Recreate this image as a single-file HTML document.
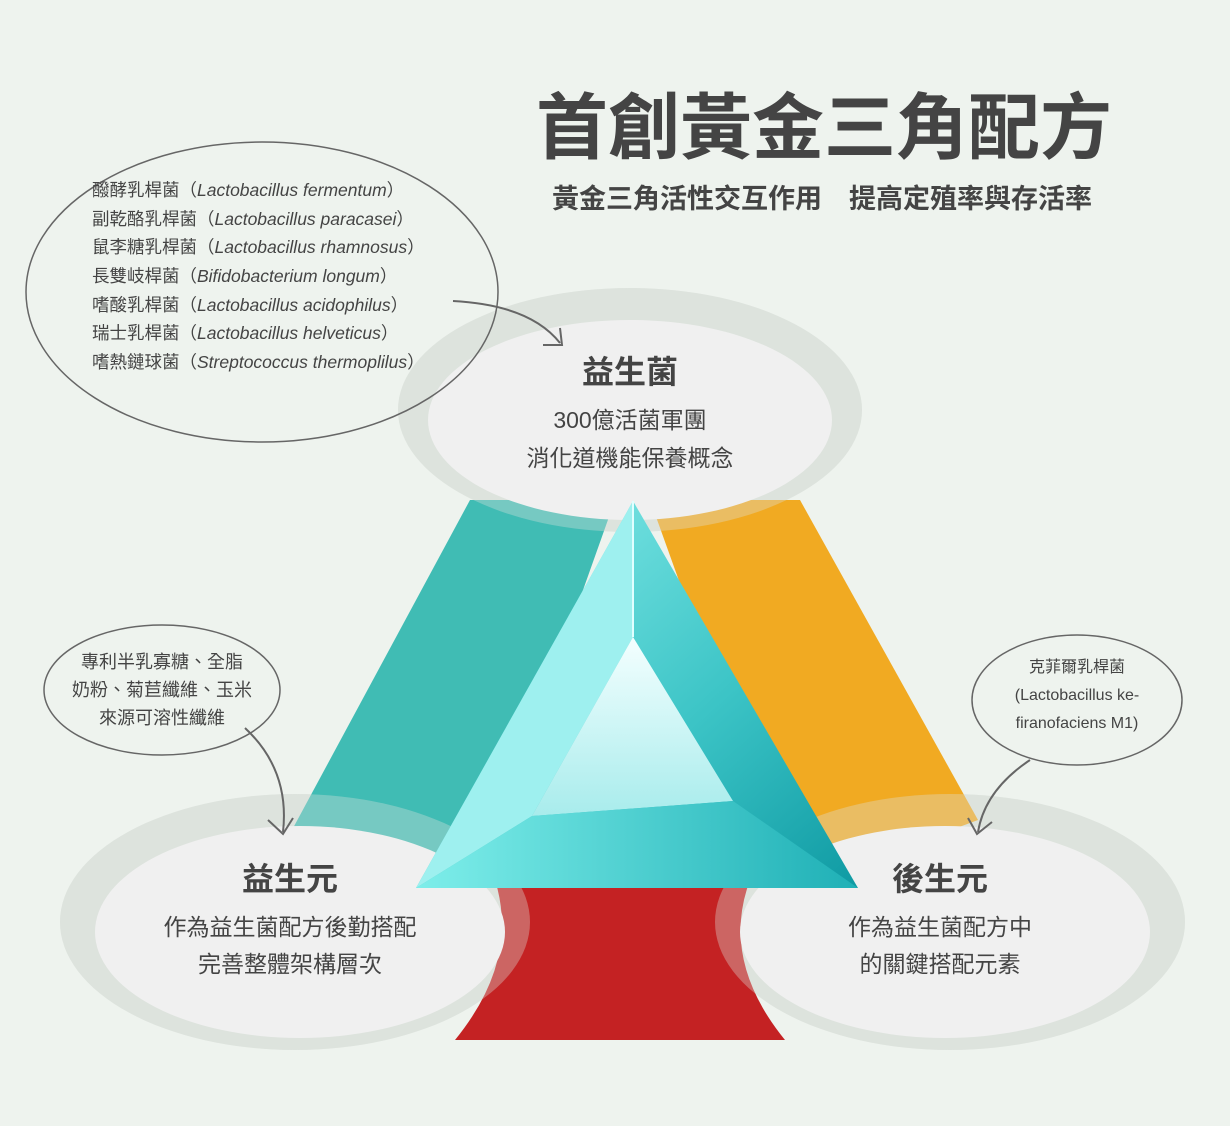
<!DOCTYPE html>
<html><head><meta charset="utf-8"><style>
html,body{margin:0;padding:0;background:#eef3ee;}
svg{display:block}
text{font-family:"Liberation Sans","Noto Sans CJK TC",sans-serif;fill:#444;}
</style></head><body>
<svg width="1230" height="1126" viewBox="0 0 1230 1126">
<defs>
<linearGradient id="tri" x1="0" y1="0" x2="1" y2="1">
<stop offset="0" stop-color="#8ff0ee"/><stop offset="0.6" stop-color="#3cc4c6"/><stop offset="1" stop-color="#0f9aa3"/>
</linearGradient>
<linearGradient id="inner" x1="0" y1="0" x2="0" y2="1">
<stop offset="0" stop-color="#f4ffff"/><stop offset="1" stop-color="#a8ecec"/>
</linearGradient>
<linearGradient id="base" x1="0" y1="0" x2="1" y2="0">
<stop offset="0" stop-color="#7eeeea"/><stop offset="1" stop-color="#1fb0b6"/>
</linearGradient>
</defs>
<rect width="1230" height="1126" fill="#eef3ee"/>
<!-- ellipse rings -->
<ellipse cx="630" cy="410" rx="232" ry="122" fill="#dde3dd"/>
<ellipse cx="295" cy="922" rx="235" ry="128" fill="#dde3dd"/>
<ellipse cx="950" cy="922" rx="235" ry="128" fill="#dde3dd"/>
<!-- bands -->
<polygon points="470,500 615,500 480,880 292,830" fill="#40bcb4"/>
<polygon points="650,500 800,500 978,820 790,890" fill="#f1aa22"/>
<path d="M495 880 L750 880 Q720 960 785 1040 L455 1040 Q520 960 495 880 Z" fill="#c42223"/>
<!-- ring overlap shade -->
<ellipse cx="630" cy="410" rx="232" ry="122" fill="#dde3dd" opacity="0.35"/>
<ellipse cx="295" cy="922" rx="235" ry="128" fill="#dde3dd" opacity="0.35"/>
<ellipse cx="950" cy="922" rx="235" ry="128" fill="#dde3dd" opacity="0.35"/>
<ellipse cx="630" cy="420" rx="202" ry="100" fill="#f0f0f0"/>
<ellipse cx="300" cy="932" rx="205" ry="106" fill="#f0f0f0"/>
<ellipse cx="945" cy="932" rx="205" ry="106" fill="#f0f0f0"/>
<!-- triangle -->
<polygon points="633,501 416,888 858,888" fill="url(#tri)"/>
<polygon points="633,501 416,888 532,816 633,637" fill="#9ef0ef"/>
<polygon points="633,637 532,816 733,801" fill="url(#inner)"/>
<polygon points="532,816 733,801 858,888 416,888" fill="url(#base)"/>
<line x1="633" y1="501" x2="633" y2="637" stroke="#e0ffff" stroke-width="2"/>
<!-- title -->
<text x="824" y="153" font-size="72" font-weight="bold" text-anchor="middle" fill="#484848">首創黃金三角配方</text>
<text x="822" y="208" font-size="27" font-weight="bold" text-anchor="middle" fill="#555">黃金三角活性交互作用　提高定殖率與存活率</text>
<!-- main labels -->
<text x="630" y="383" font-size="32" font-weight="bold" text-anchor="middle">益生菌</text>
<text x="630" y="428" font-size="23" text-anchor="middle">300億活菌軍團</text>
<text x="630" y="466" font-size="23" text-anchor="middle">消化道機能保養概念</text>
<text x="290" y="890" font-size="32" font-weight="bold" text-anchor="middle">益生元</text>
<text x="290" y="935" font-size="23" text-anchor="middle">作為益生菌配方後勤搭配</text>
<text x="290" y="972" font-size="23" text-anchor="middle">完善整體架構層次</text>
<text x="940" y="890" font-size="32" font-weight="bold" text-anchor="middle">後生元</text>
<text x="940" y="935" font-size="23" text-anchor="middle">作為益生菌配方中</text>
<text x="940" y="972" font-size="23" text-anchor="middle">的關鍵搭配元素</text>
<!-- callouts -->
<ellipse cx="262" cy="292" rx="236" ry="150" fill="none" stroke="#666" stroke-width="1.5"/>
<g font-size="17.5">
<text x="92" y="196">醱酵乳桿菌（<tspan font-style="italic">Lactobacillus fermentum</tspan>）</text>
<text x="92" y="225">副乾酪乳桿菌（<tspan font-style="italic">Lactobacillus paracasei</tspan>）</text>
<text x="92" y="253">鼠李糖乳桿菌（<tspan font-style="italic">Lactobacillus rhamnosus</tspan>）</text>
<text x="92" y="282">長雙岐桿菌（<tspan font-style="italic">Bifidobacterium longum</tspan>）</text>
<text x="92" y="311">嗜酸乳桿菌（<tspan font-style="italic">Lactobacillus acidophilus</tspan>）</text>
<text x="92" y="339">瑞士乳桿菌（<tspan font-style="italic">Lactobacillus helveticus</tspan>）</text>
<text x="92" y="368">嗜熱鏈球菌（<tspan font-style="italic">Streptococcus thermoplilus</tspan>）</text>
</g>
<path d="M453 301 Q530 305 560 343" fill="none" stroke="#666" stroke-width="2"/>
<path d="M543 345 L562 345 L560 328" fill="none" stroke="#666" stroke-width="2"/>
<ellipse cx="162" cy="690" rx="118" ry="65" fill="none" stroke="#666" stroke-width="1.5"/>
<g font-size="18" text-anchor="middle">
<text x="162" y="668">專利半乳寡糖、全脂</text>
<text x="162" y="696">奶粉、菊苣纖維、玉米</text>
<text x="162" y="724">來源可溶性纖維</text>
</g>
<path d="M245 728 Q290 770 283 832" fill="none" stroke="#666" stroke-width="2"/>
<path d="M268 820 L283 834 L293 818" fill="none" stroke="#666" stroke-width="2"/>
<ellipse cx="1077" cy="700" rx="105" ry="65" fill="none" stroke="#666" stroke-width="1.5"/>
<g font-size="16" text-anchor="middle">
<text x="1077" y="672">克菲爾乳桿菌</text>
<text x="1077" y="700">(Lactobacillus ke-</text>
<text x="1077" y="728">firanofaciens M1)</text>
</g>
<path d="M1030 760 Q985 790 978 832" fill="none" stroke="#666" stroke-width="2"/>
<path d="M968 818 L977 834 L992 822" fill="none" stroke="#666" stroke-width="2"/>
</svg>
</body></html>
